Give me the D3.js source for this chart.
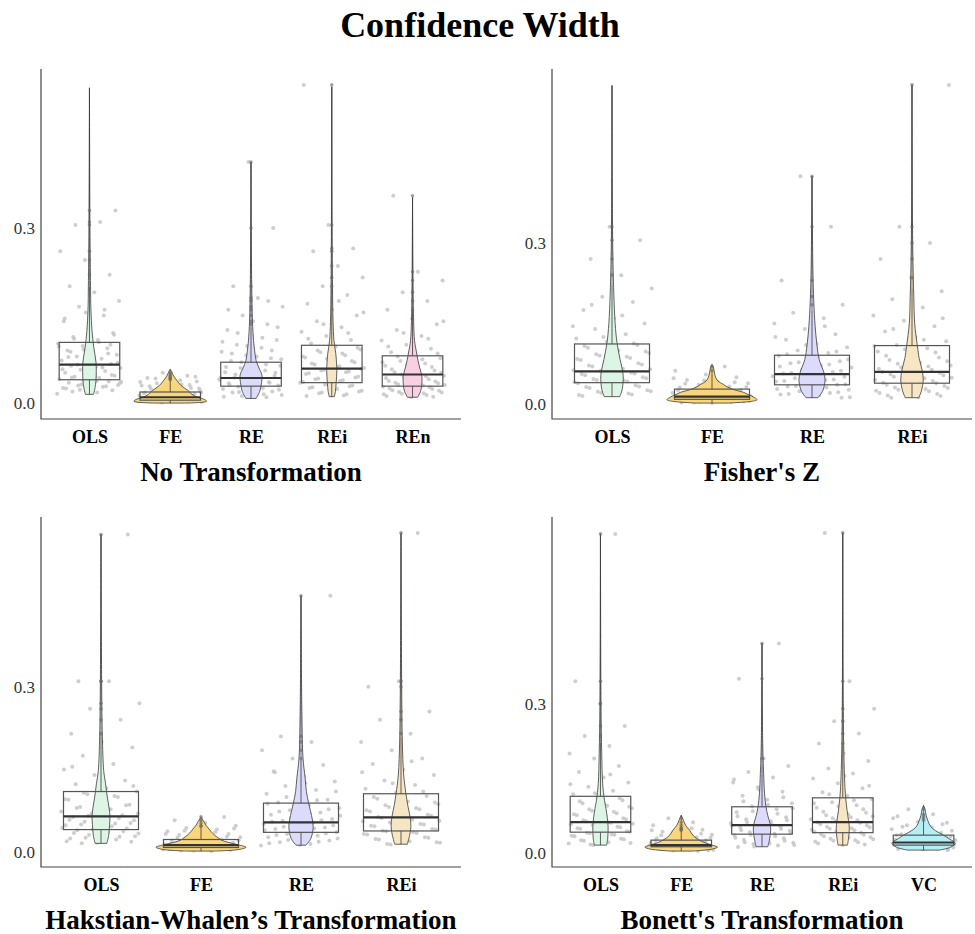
<!DOCTYPE html>
<html>
<head>
<meta charset="utf-8">
<script src="https://cdn.jsdelivr.net/npm/d3@7"></script>
<style>
  body { margin: 0; background: #fff; }
  text { font-family: "Liberation Serif", "Times New Roman", serif; }
</style>
</head>
<body>
<div id="chart"></div>
<script>
// ---- data ----
var mainTitle = "Confidence Width";
var panelTitles = ["No Transformation", "Fisher's Z", "Hakstian-Whalen\u2019s Transformation", "Bonett's Transformation"];
var panelCats = [
    ["OLS", "FE", "RE", "REi", "REn"],
    ["OLS", "FE", "RE", "REi"],
    ["OLS", "FE", "RE", "REi"],
    ["OLS", "FE", "RE", "REi", "VC"]
];
var yTicks = [0, 0.3];

// box stats per category: [min, q1, median, q3, max]
var statsNoTrans = [[.015, .040, .066, .104, .540], [.000, .005, .010, .019, .058], [.008, .029, .043, .070, .413], [.011, .035, .059, .099, .542], [.010, .029, .049, .081, .353]];
var statsFisher = [[.014, .040, .061, .112, .593], [.002, .009, .014, .028, .074], [.012, .036, .056, .091, .424], [.012, .039, .060, .109, .594]];
var statsHW = [[.016, .041, .065, .110, .576], [.002, .0085, .0127, .023, .064], [.0127, .036, .054, .089, .465], [.0145, .0385, .063, .106, .579]];
var statsBonett = [[.016, .042, .062, .114, .641], [.004, .0127, .016, .026, .076], [.0127, .038, .056, .093, .421], [.016, .041, .062, .111, .643], [.006, .016, .0213, .036, .096]];

// violin profiles: [value, relative density]
var violinNoTrans = [
    [[.015, .11], [.025, .15], [.04, .18], [.07, .18], [.095, .12], [.124, .07], [.16, .04], [.2, .03], [.3, .014], [.54, 0]],
    [[.000, .4], [.003, 1.0], [.006, .95], [.010, .75], [.015, .6], [.022, .48], [.030, .3], [.039, .18], [.048, .08], [.054, .04], [.058, 0]],
    [[.008, .14], [.020, .24], [.035, .29], [.048, .30], [.060, .22], [.073, .14], [.09, .10], [.107, .07], [.14, .04], [.18, .025], [.25, .012], [.413, 0]],
    [[.011, .07], [.02, .10], [.034, .12], [.056, .14], [.07, .13], [.085, .11], [.107, .06], [.14, .035], [.2, .02], [.3, .01], [.542, 0]],
    [[.010, .14], [.02, .22], [.03, .25], [.045, .26], [.06, .2], [.073, .15], [.09, .10], [.107, .055], [.14, .03], [.2, .015], [.353, 0]]
];
var violinFisher = [
    [[.014, .17], [.025, .22], [.046, .25], [.06, .24], [.083, .18], [.115, .11], [.15, .07], [.207, .04], [.3, .015], [.593, 0]],
    [[.002, .35], [.005, .85], [.008, 1.0], [.012, .95], [.018, .8], [.022, .7], [.028, .45], [.033, .32], [.037, .25], [.043, .13], [.05, .08], [.06, .05], [.068, .035], [.074, 0]],
    [[.012, .13], [.025, .24], [.046, .29], [.06, .26], [.083, .16], [.11, .11], [.145, .07], [.19, .04], [.25, .02], [.424, 0]],
    [[.012, .15], [.025, .21], [.046, .25], [.065, .22], [.085, .16], [.108, .12], [.15, .06], [.2, .04], [.3, .015], [.594, 0]]
];
var violinHW = [
    [[.016, .13], [.03, .17], [.05, .19], [.064, .20], [.08, .18], [.10, .14], [.125, .1], [.148, .06], [.21, .03], [.3, .015], [.576, 0]],
    [[.002, .3], [.005, .85], [.009, 1.0], [.013, .85], [.018, .6], [.022, .45], [.028, .35], [.034, .26], [.042, .18], [.049, .11], [.056, .06], [.064, 0]],
    [[.0127, .11], [.025, .22], [.046, .27], [.06, .25], [.089, .17], [.11, .12], [.136, .09], [.17, .045], [.25, .02], [.465, 0]],
    [[.0145, .14], [.03, .19], [.046, .22], [.065, .2], [.085, .15], [.106, .11], [.14, .06], [.2, .03], [.3, .015], [.579, 0]]
];
var violinBonett = [
    [[.016, .17], [.03, .2], [.053, .21], [.07, .19], [.09, .15], [.106, .11], [.14, .06], [.2, .035], [.3, .015], [.641, 0]],
    [[.004, .3], [.008, .85], [.012, 1.0], [.016, .85], [.021, .65], [.026, .5], [.035, .33], [.046, .23], [.056, .12], [.066, .06], [.076, 0]],
    [[.0127, .16], [.025, .2], [.046, .24], [.06, .22], [.075, .16], [.093, .11], [.12, .07], [.16, .045], [.22, .02], [.421, 0]],
    [[.016, .13], [.03, .16], [.05, .18], [.065, .16], [.085, .12], [.111, .08], [.14, .055], [.2, .03], [.3, .013], [.643, 0]],
    [[.006, .44], [.012, .75], [.02, .87], [.028, .72], [.036, .55], [.045, .33], [.053, .2], [.065, .12], [.076, .07], [.088, .04], [.096, 0]]
];

// jittered sample points per category
var ptsNoTrans = [
    [.016, .018, .02, .022, .024, .026, .028, .03, .031, .033, .035, .037, .039, .041, .043, .045, .047, .05, .052, .055, .057, .06, .062, .064, .067, .07, .073, .076, .08, .083, .087, .09, .094, .098, .102, .108, .113, .12, .128, .14, .15, .165, .175, .19, .2, .22, .245, .26, .31, .305, .33,
     .021, .025, .029, .032, .036, .038, .044, .048, .053, .058, .061, .066, .069, .074, .079, .085, .092, .097, .104, .11, .117, .132, .145, .16, .023, .034, .046, .088, .1, .155],
    [.001, .002, .003, .004, .005, .005, .006, .007, .008, .008, .009, .01, .011, .012, .013, .014, .015, .016, .017, .018, .019, .02, .021, .022, .024, .026, .028, .03, .032, .034, .037, .04, .043, .047, .052,
     .003, .006, .009, .011, .014, .017, .02, .023, .025, .027, .029, .031, .033, .036, .039, .042, .045, .05, .004, .007, .013, .018],
    [.01, .012, .014, .016, .018, .02, .022, .024, .026, .028, .03, .032, .034, .036, .038, .04, .042, .044, .047, .05, .053, .056, .06, .064, .068, .072, .077, .082, .088, .095, .1, .108, .115, .125, .135, .15, .165, .18, .2, .3, .413,
     .011, .015, .019, .023, .027, .031, .035, .039, .043, .046, .049, .052, .058, .062, .066, .07, .075, .08, .085, .09, .098, .105, .112, .12, .13, .14, .16, .175],
    [.012, .015, .018, .021, .024, .027, .03, .033, .036, .039, .042, .045, .048, .051, .054, .057, .06, .063, .066, .07, .074, .078, .082, .087, .092, .097, .102, .108, .115, .122, .13, .14, .15, .16, .17, .185, .2, .215, .235, .26, .265, .305, .545,
     .013, .017, .02, .023, .026, .029, .032, .035, .038, .041, .044, .047, .05, .053, .056, .059, .062, .068, .072, .076, .08, .085, .09, .095, .1, .11, .12, .135, .155, .175],
    [.01, .012, .014, .016, .018, .02, .022, .024, .026, .028, .03, .032, .034, .036, .038, .041, .044, .047, .05, .053, .056, .06, .064, .068, .072, .077, .082, .087, .093, .1, .107, .115, .125, .135, .145, .16, .175, .19, .21, .225, .355,
     .011, .013, .015, .017, .019, .021, .023, .025, .027, .029, .031, .033, .035, .037, .04, .043, .046, .049, .052, .055, .058, .062, .066, .07, .075, .08, .085, .09, .097, .11, .12, .14]
];
var ptsFisher = [
    [.015, .018, .021, .024, .027, .03, .033, .036, .039, .042, .045, .048, .051, .054, .057, .06, .063, .066, .07, .074, .078, .082, .086, .09, .095, .1, .105, .11, .116, .122, .13, .14, .15, .16, .175, .19, .2, .215, .24, .27, .305, .33,
     .017, .02, .023, .026, .029, .032, .035, .038, .041, .044, .047, .05, .053, .056, .059, .062, .065, .068, .072, .076, .08, .084, .088, .093, .098, .103, .108, .113, .125, .145, .165, .185],
    [.002, .003, .004, .005, .006, .007, .008, .009, .01, .011, .012, .013, .014, .015, .016, .018, .02, .021, .023, .025, .027, .029, .031, .033, .036, .039, .042, .045, .05, .055, .062, .07,
     .003, .005, .007, .009, .011, .013, .015, .017, .019, .022, .024, .026, .028, .03, .032, .035, .038, .041, .044, .048],
    [.012, .015, .018, .021, .024, .027, .03, .033, .036, .039, .042, .045, .048, .051, .054, .057, .06, .064, .068, .072, .076, .08, .085, .09, .095, .1, .106, .112, .12, .13, .14, .15, .16, .17, .185, .2, .23, .33, .424,
     .013, .016, .019, .022, .025, .028, .031, .034, .037, .04, .043, .046, .049, .052, .055, .058, .062, .066, .07, .074, .078, .083, .088, .093, .098, .11, .125, .145],
    [.012, .015, .018, .021, .024, .027, .03, .033, .036, .039, .042, .045, .048, .051, .054, .057, .06, .064, .068, .072, .077, .082, .087, .092, .098, .104, .11, .117, .125, .135, .145, .155, .165, .18, .195, .21, .235, .27, .3, .33, .594,
     .013, .016, .019, .022, .025, .028, .031, .034, .037, .04, .043, .046, .049, .052, .055, .058, .062, .066, .07, .075, .08, .085, .09, .096, .102, .108, .12, .14, .16]
];
var ptsHW = [
    [.016, .019, .022, .025, .028, .031, .034, .037, .04, .043, .046, .049, .052, .055, .058, .061, .064, .067, .07, .074, .078, .082, .086, .09, .095, .1, .105, .11, .116, .123, .13, .14, .15, .16, .175, .19, .2, .215, .24, .26, .27, .31, .31, .576,
     .017, .02, .023, .026, .029, .032, .035, .038, .041, .044, .047, .05, .053, .056, .059, .062, .066, .07, .075, .08, .085, .09, .096, .102, .108, .12, .135, .155],
    [.002, .003, .004, .005, .006, .007, .008, .009, .01, .011, .012, .013, .014, .015, .016, .017, .019, .021, .023, .025, .027, .029, .031, .033, .035, .038, .041, .044, .048, .053, .058, .064,
     .003, .005, .007, .009, .011, .013, .015, .017, .019, .021, .024, .026, .028, .03, .033, .036, .039, .043, .047],
    [.012, .015, .018, .021, .024, .027, .03, .033, .036, .039, .042, .045, .048, .051, .054, .057, .06, .064, .068, .072, .076, .08, .085, .09, .095, .1, .106, .113, .12, .128, .137, .147, .158, .17, .185, .2, .21, .465,
     .013, .016, .019, .022, .025, .028, .031, .034, .037, .04, .043, .046, .049, .052, .055, .058, .062, .066, .07, .074, .078, .083, .088, .094, .1, .11, .125, .145],
    [.014, .017, .02, .023, .026, .029, .032, .035, .038, .041, .044, .047, .05, .053, .056, .059, .062, .066, .07, .074, .078, .082, .087, .092, .097, .102, .108, .115, .122, .13, .14, .15, .16, .17, .185, .2, .215, .24, .255, .31, .3, .579,
     .015, .018, .021, .024, .027, .03, .033, .036, .039, .042, .045, .048, .051, .054, .057, .06, .064, .068, .072, .076, .08, .085, .09, .095, .1, .11, .125, .145, .165]
];
var ptsBonett = [
    [.016, .019, .022, .025, .028, .031, .034, .037, .04, .043, .046, .049, .052, .055, .058, .061, .064, .068, .072, .076, .08, .085, .09, .095, .1, .106, .112, .118, .125, .133, .142, .152, .163, .175, .19, .2, .215, .235, .255, .3, .345, .641,
     .017, .02, .023, .026, .029, .032, .035, .038, .041, .044, .047, .05, .053, .056, .059, .062, .066, .07, .074, .078, .083, .088, .093, .098, .104, .11, .12, .138, .158],
    [.004, .005, .006, .007, .008, .009, .01, .011, .012, .013, .014, .015, .016, .017, .018, .02, .022, .024, .026, .028, .03, .032, .034, .037, .04, .043, .047, .051, .056, .062, .07,
     .005, .007, .009, .011, .013, .015, .017, .019, .021, .023, .025, .027, .029, .031, .033, .036, .039, .042, .046, .05],
    [.012, .015, .018, .021, .024, .027, .03, .033, .036, .039, .042, .045, .048, .051, .054, .057, .06, .064, .068, .072, .077, .082, .088, .094, .1, .107, .115, .123, .132, .142, .152, .163, .175, .19, .35, .421,
     .013, .016, .019, .022, .025, .028, .031, .034, .037, .04, .043, .046, .049, .052, .055, .058, .062, .066, .07, .074, .079, .084, .09, .097, .104, .112, .128, .148],
    [.016, .019, .022, .025, .028, .031, .034, .037, .04, .043, .046, .049, .052, .055, .058, .061, .064, .068, .072, .076, .081, .086, .091, .096, .102, .108, .115, .122, .13, .14, .15, .16, .17, .185, .2, .22, .24, .265, .29, .345, .643,
     .017, .02, .023, .026, .029, .032, .035, .038, .041, .044, .047, .05, .053, .056, .059, .062, .066, .07, .074, .078, .083, .088, .094, .1, .106, .118, .135, .155],
    [.006, .007, .008, .009, .01, .011, .012, .013, .014, .015, .016, .017, .018, .019, .02, .021, .022, .024, .026, .028, .03, .032, .034, .036, .039, .042, .045, .049, .053, .058, .063, .07, .078, .088,
     .007, .009, .011, .013, .015, .017, .019, .021, .023, .025, .027, .029, .031, .033, .035, .038, .041, .044, .048, .052, .056, .061, .066, .074]
];

var catColors = { OLS: "#dcf5e4", FE: "#f9d67c", RE: "#dcdbfb", REi: "#f7e6c3", REn: "#f9d0e3", VC: "#b6eef5" };

var allStats = [statsNoTrans, statsFisher, statsHW, statsBonett];
var allViolins = [violinNoTrans, violinFisher, violinHW, violinBonett];
var allPts = [ptsNoTrans, ptsFisher, ptsHW, ptsBonett];

// ---- layout ----
var W = 975, H = 934;
var frames = [
    { x0: 41, x1: 461, y0: 69, y1: 419 },
    { x0: 552, x1: 972, y0: 69, y1: 419 },
    { x0: 41, x1: 461, y0: 517, y1: 867 },
    { x0: 552, x1: 972, y0: 517, y1: 867 }
];

var svg = d3.select("#chart")
    .append("svg")
    .attr("width", W)
    .attr("height", H);

svg.append("text")
    .attr("x", 480)
    .attr("y", 37)
    .attr("text-anchor", "middle")
    .attr("font-size", 36)
    .attr("font-weight", "bold")
    .attr("fill", "#000")
    .text(mainTitle);

frames.forEach(function (f, p) {
    var cats = panelCats[p];
    var stats = allStats[p];
    var violins = allViolins[p];
    var pts = allPts[p];

    var x = d3.scalePoint()
        .domain(cats)
        .range([f.x0, f.x1])
        .padding(0.6);
    var step = x.step();

    // y domain: data extent plus 5% (ggplot default)
    var vals = [];
    stats.forEach(function (s) { vals = vals.concat(s); });
    pts.forEach(function (a) { vals = vals.concat(a); });
    violins.forEach(function (v) { v.forEach(function (d) { vals.push(d[0]); }); });
    var ext = d3.extent(vals);
    var pad = (ext[1] - ext[0]) * 0.05;
    var y = d3.scaleLinear()
        .domain([ext[0] - pad, ext[1] + pad])
        .range([f.y1, f.y0]);

    var wScale = d3.scaleLinear().domain([0, 1]).range([0, 0.45 * step]);

    var g = svg.append("g");

    // jittered points
    cats.forEach(function (c, ci) {
        g.selectAll(null)
            .data(pts[ci])
            .enter()
            .append("circle")
            .attr("cx", function (d, i) {
                var u = ((i * 0.6180339887 + ci * 0.37 + p * 0.13) % 1) - 0.5;
                return x(c) + u * 0.8 * step;
            })
            .attr("cy", function (d) { return y(d); })
            .attr("r", 2)
            .attr("fill", "#c6c6c6")
            .attr("opacity", 0.85);
    });

    // violins
    cats.forEach(function (c, ci) {
        var cx = x(c);
        var area = d3.area()
            .curve(d3.curveCatmullRom)
            .y(function (d) { return y(d[0]); })
            .x0(function (d) { return cx - wScale(d[1]); })
            .x1(function (d) { return cx + wScale(d[1]); });
        g.append("path")
            .datum(violins[ci])
            .attr("d", area)
            .attr("fill", catColors[c])
            .attr("stroke", "#3a3a3a")
            .attr("stroke-width", 0.8);
    });

    // narrow whiskers and outliers along the centre
    cats.forEach(function (c, ci) {
        var s = stats[ci];
        var cx = x(c);
        var hi = Math.min(s[4], s[3] + 1.5 * (s[3] - s[1]));
        g.append("line")
            .attr("x1", cx).attr("x2", cx)
            .attr("y1", y(s[0])).attr("y2", y(s[1]))
            .attr("stroke", "#3a3a3a").attr("stroke-width", 0.8);
        g.append("line")
            .attr("x1", cx).attr("x2", cx)
            .attr("y1", y(s[3])).attr("y2", y(hi))
            .attr("stroke", "#3a3a3a").attr("stroke-width", 0.8);
        g.append("line")
            .attr("x1", cx).attr("x2", cx)
            .attr("y1", y(hi)).attr("y2", y(s[4]))
            .attr("stroke", "#3a3a3a").attr("stroke-width", 0.6);
        g.selectAll(null)
            .data(pts[ci].filter(function (d) { return d > hi; }))
            .enter()
            .append("circle")
            .attr("cx", cx)
            .attr("cy", function (d) { return y(d); })
            .attr("r", 1.8)
            .attr("fill", "#666")
            .attr("opacity", 0.6);
    });

    // wide boxes
    cats.forEach(function (c, ci) {
        var s = stats[ci];
        var bw = 0.75 * step;
        g.append("rect")
            .attr("x", x(c) - bw / 2)
            .attr("y", y(s[3]))
            .attr("width", bw)
            .attr("height", y(s[1]) - y(s[3]))
            .attr("fill", "none")
            .attr("stroke", "#555")
            .attr("stroke-width", 1.2);
        g.append("line")
            .attr("x1", x(c) - bw / 2).attr("x2", x(c) + bw / 2)
            .attr("y1", y(s[2])).attr("y2", y(s[2]))
            .attr("stroke", "#333")
            .attr("stroke-width", 2.2);
    });

    // axes
    var yAxis = g.append("g")
        .attr("transform", "translate(" + f.x0 + ",0)")
        .call(d3.axisLeft(y).tickValues(yTicks).tickSize(0).tickPadding(6).tickFormat(d3.format(".1f")));
    yAxis.select(".domain").remove();
    yAxis.selectAll("text")
        .attr("font-size", 17)
        .attr("font-family", "Liberation Serif, serif")
        .attr("fill", "#333");

    var xAxis = g.append("g")
        .attr("transform", "translate(0," + f.y1 + ")")
        .call(d3.axisBottom(x).tickSize(0).tickPadding(11));
    xAxis.select(".domain").remove();
    xAxis.selectAll("text")
        .attr("font-size", 18)
        .attr("font-weight", "bold")
        .attr("font-family", "Liberation Serif, serif")
        .attr("fill", "#000");

    g.append("path")
        .attr("d", "M" + f.x0 + "," + f.y0 + "V" + f.y1 + "H" + f.x1)
        .attr("fill", "none")
        .attr("stroke", "#444")
        .attr("stroke-width", 1.2);

    g.append("text")
        .attr("x", (f.x0 + f.x1) / 2)
        .attr("y", f.y1 + 62)
        .attr("text-anchor", "middle")
        .attr("font-size", 27)
        .attr("font-weight", "bold")
        .attr("fill", "#000")
        .text(panelTitles[p]);
});
</script>
</body>
</html>
